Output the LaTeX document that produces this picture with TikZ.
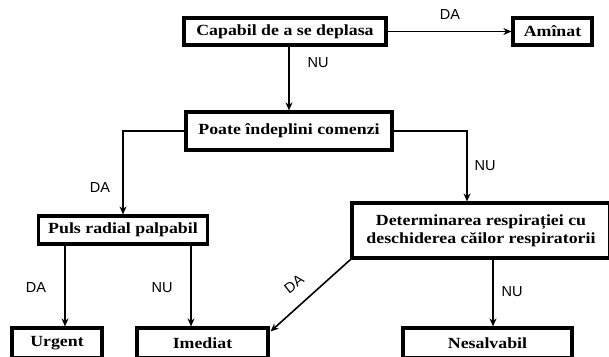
\documentclass[tikz,border=0pt]{standalone}
\usepackage{fontspec}
\setmainfont{Liberation Serif}[FakeStretch=1.15]
\newfontfamily\labfont{Liberation Sans}
\usetikzlibrary{arrows.meta,positioning}

\begin{document}
\begin{tikzpicture}[x=1pt,y=-1pt,
  box/.style={draw,line width=3.2pt,inner sep=0pt,align=center,
    font=\fontsize{15.5}{18}\selectfont\bfseries},
  arr/.style={line width=1.6pt,-{Stealth[length=8pt,width=7pt]}},
  lab/.style={font=\labfont\fontsize{14.5}{14.5}\selectfont}]
\useasboundingbox (0,0) rectangle (609,356);
\clip (0,0) rectangle (609,356);
\node[box,minimum width=202pt,minimum height=27pt] (cap) at (285,31.5) {Capabil de a se deplasa};
\node[box,minimum width=79pt,minimum height=27pt] (amin) at (552.5,31.5) {Amînat};
\node[box,minimum width=206pt,minimum height=38pt] (poate) at (289,131) {Poate îndeplini comenzi};
\node[box,minimum width=169pt,minimum height=28pt] (puls) at (123,230) {Puls radial palpabil};
\node[box,minimum width=258pt,minimum height=55pt] (det) at (481,230.5) {Determinarea respirației cu\\ deschiderea căilor respiratorii};
\node[box,minimum width=90pt,minimum height=30pt] (urg) at (57,343) {Urgent};
\node[box,minimum width=131pt,minimum height=30pt] (imed) at (202.5,343) {Imediat};
\node[box,minimum width=169pt,minimum height=30pt] (nes) at (487.5,343) {Nesalvabil};
\coordinate (dnu) at ([xshift=-14pt]det.north);
\coordinate (pda) at ([xshift=-58pt]puls.south);
\coordinate (pnu) at ([xshift=68pt]puls.south);
\coordinate (dda) at ([xshift=12pt]det.south);
\draw[arr] (cap.east) -- (amin.west);
\draw[arr] (cap.south -| poate.north) -- (poate.north);
\draw[arr] (poate.west) -| (puls.north);
\draw[arr] (poate.east) -| (dnu);
\draw[arr] (pda) -- (pda |- urg.north);
\draw[arr] (pnu) -- (pnu |- imed.north);
\draw[arr] (det.south west) -- ([shift={(1pt,-5pt)}]imed.north east);
\draw[arr] (dda) -- (dda |- nes.north);
\node[lab] (l1) at (450,15) {DA};
\node[lab] (l2) at (318,63) {NU};
\node[lab] (l3) at (100,188) {DA};
\node[lab] (l4) at (485,166) {NU};
\node[lab] (l5) at (36,288) {DA};
\node[lab] (l6) at (162,288) {NU};
\node[lab,rotate=38] (l7) at (294,284) {DA};
\node[lab] (l8) at (512,292) {NU};
\end{tikzpicture}
\end{document}
